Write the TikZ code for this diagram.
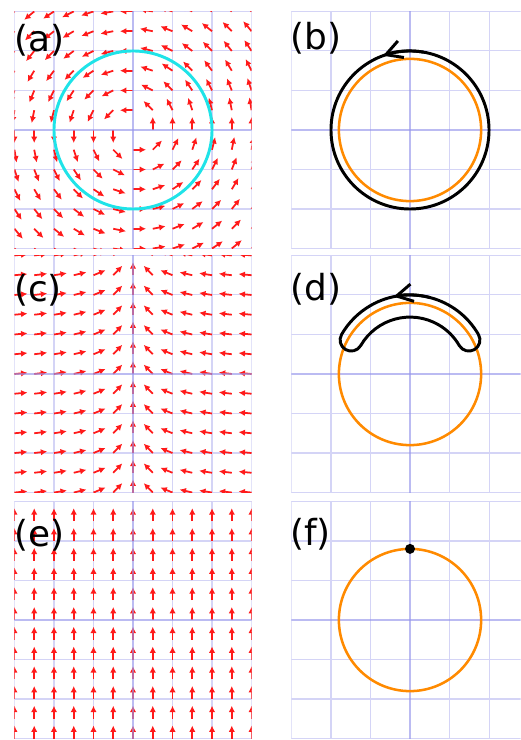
\documentclass[tikz,border=0pt]{standalone}
\usepackage{fontspec}
\setmainfont{DejaVu Sans}
\usetikzlibrary{arrows.meta}

\begin{document}
\begin{tikzpicture}[x=0.025cm, y=0.025cm,
  gridline/.style={draw=gridColor, line width=0.75pt},
  axisline/.style={draw=axisColor, line width=2.1pt, draw opacity=0.65},
  fieldarrow/.style={draw=fieldRed, line width=1.25pt, -{Latex[length=1.6mm, width=1.6mm]}},
  contour/.style={draw=black, line width=2.1pt, line join=round},
  orangecircle/.style={draw=customOrange, line width=1.8pt},
  panellabel/.style={anchor=base west, inner sep=0pt, text=black, font=\fontsize{25.5}{30}\selectfont},
  pointmark/.style={circle, fill=black, inner sep=0pt, minimum size=0.25cm}]

\definecolor{gridColor}{HTML}{D4D4F6}
\definecolor{axisColor}{HTML}{9696EB}
\definecolor{fieldRed}{HTML}{FF1A1A}
\definecolor{customCyan}{HTML}{1FE3E8}
\definecolor{customOrange}{HTML}{FF8A00}

\useasboundingbox (0,0) rectangle (520,740);

% Panel (a): field turning round the origin
\begin{scope}[shift={(133,610)}, x=1.975cm, y=1.975cm]
  \clip (-1.5,-1.5) rectangle (1.5,1.5);
  \foreach \g in {-1.5,-1,-0.5,0.5,1,1.5} {
    \draw[gridline] (\g,-1.5) -- (\g,1.5);
    \draw[gridline] (-1.5,\g) -- (1.5,\g);
  }
  \foreach \i in {-6,...,6} {
    \foreach \j in {-6,...,6} {
      \ifnum\numexpr\i*\i+\j*\j\relax>0
        \draw[fieldarrow] (\i/4,\j/4) -- ++({atan2(\j,\i)+90}:0.165);
      \fi
    }
  }
  \draw[axisline] (-1.5,0) -- (1.5,0);
  \draw[axisline] (0,-1.5) -- (0,1.5);
  % Cyan circle
  \draw[customCyan, line width=2.1pt] (0,0) circle[radius=1];
\end{scope}

% Panel (b): closed loop round the circle
\begin{scope}[shift={(410,610)}, x=1.975cm, y=1.975cm]
  \clip (-1.5,-1.5) rectangle (1.4,1.5);
  \foreach \g in {-1.5,-1,-0.5,0.5,1,1.5} {
    \draw[gridline] (\g,-1.5) -- (\g,1.5);
    \draw[gridline] (-1.5,\g) -- (1.5,\g);
  }
  \draw[axisline] (-1.5,0) -- (1.5,0);
  \draw[axisline] (0,-1.5) -- (0,1.5);
  \draw[orangecircle] (0,0) circle[radius=0.9];
  \draw[contour] (0,0) circle[radius=1];
  \draw[contour, -{Straight Barb[length=4mm, width=4.4mm]}] (80:1) arc[start angle=80, end angle=110, radius=1];
\end{scope}

% Panel (c): field converging on the vertical axis
\begin{scope}[shift={(133,366)}, x=1.975cm, y=1.975cm]
  \clip (-1.5,-1.5) rectangle (1.5,1.5);
  \foreach \g in {-1.5,-1,-0.5,0.5,1,1.5} {
    \draw[gridline] (\g,-1.5) -- (\g,1.5);
    \draw[gridline] (-1.5,\g) -- (1.5,\g);
  }
  \foreach \i in {-6,...,6} {
    \foreach \j in {-6,...,6} {
      \ifnum\i=0
        \draw[fieldarrow] (0,\j/4) -- ++(90:0.165);
      \else
        \draw[fieldarrow] (\i/4,\j/4) -- ++({atan2(0.16,-(\i)/4*pow(abs(\i)/4,0.35))}:0.165);
      \fi
    }
  }
  \draw[axisline] (-1.5,0) -- (1.5,0);
  \draw[axisline] (0,-1.5) -- (0,1.5);
\end{scope}

% Panel (d): loop pulled onto the upper arc
\begin{scope}[shift={(410,366)}, x=1.975cm, y=1.975cm]
  \clip (-1.5,-1.5) rectangle (1.4,1.5);
  \foreach \g in {-1.5,-1,-0.5,0.5,1,1.5} {
    \draw[gridline] (\g,-1.5) -- (\g,1.5);
    \draw[gridline] (-1.5,\g) -- (1.5,\g);
  }
  \draw[axisline] (-1.5,0) -- (1.5,0);
  \draw[axisline] (0,-1.5) -- (0,1.5);
  \draw[orangecircle] (0,0) circle[radius=0.9];
  \draw[contour] (30:1) arc[start angle=30, end angle=150, radius=1]
    arc[start angle=150, end angle=330, radius=0.14]
    arc[start angle=150, end angle=30, radius=0.72]
    arc[start angle=210, end angle=390, radius=0.14] -- cycle;
  \draw[contour, -{Straight Barb[length=4mm, width=4.4mm]}] (75:1) arc[start angle=75, end angle=102, radius=1];
\end{scope}

% Panel (e): uniform upward field
\begin{scope}[shift={(133,120)}, x=1.975cm, y=1.975cm]
  \clip (-1.5,-1.5) rectangle (1.5,1.5);
  \foreach \g in {-1.5,-1,-0.5,0.5,1,1.5} {
    \draw[gridline] (\g,-1.5) -- (\g,1.5);
    \draw[gridline] (-1.5,\g) -- (1.5,\g);
  }
  \foreach \i in {-6,...,6} {
    \foreach \j in {-6,...,6} {
      \draw[fieldarrow] (\i/4,\j/4) -- ++(90:0.165);
    }
  }
  \draw[axisline] (-1.5,0) -- (1.5,0);
  \draw[axisline] (0,-1.5) -- (0,1.5);
\end{scope}

% Panel (f): loop shrunk to a point
\begin{scope}[shift={(410,120)}, x=1.975cm, y=1.975cm]
  \clip (-1.5,-1.5) rectangle (1.4,1.5);
  \foreach \g in {-1.5,-1,-0.5,0.5,1,1.5} {
    \draw[gridline] (\g,-1.5) -- (\g,1.5);
    \draw[gridline] (-1.5,\g) -- (1.5,\g);
  }
  \draw[axisline] (-1.5,0) -- (1.5,0);
  \draw[axisline] (0,-1.5) -- (0,1.5);
  \draw[orangecircle] (0,0) circle[radius=0.9];
  \node[pointmark] (topPoint) at (0,0.9) {};
\end{scope}

% Panel labels
\node[panellabel] (labelA) at (14,688) {(a)};
\node[panellabel] (labelB) at (290,690) {(b)};
\node[panellabel] (labelC) at (14,438) {(c)};
\node[panellabel] (labelD) at (290,439) {(d)};
\node[panellabel] (labelE) at (14,193) {(e)};
\node[panellabel] (labelF) at (290,194) {(f)};

\end{tikzpicture}
\end{document}
